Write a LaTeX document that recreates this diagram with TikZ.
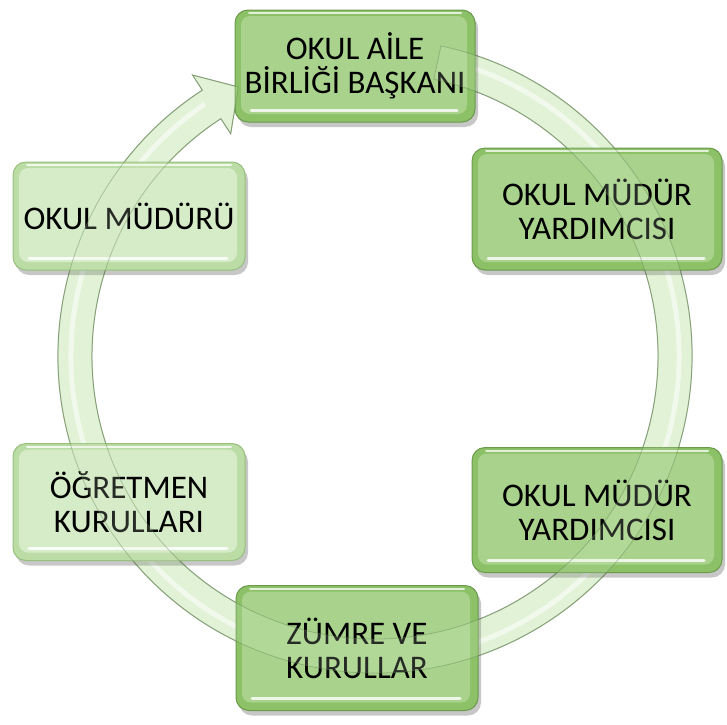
\documentclass[tikz,border=0pt]{standalone}
\usepackage{fontspec}
\setmainfont{Carlito}
\usetikzlibrary{calc}
\definecolor{gin}{HTML}{A9D38C}
\definecolor{grim}{HTML}{8CC168}
\definecolor{gedge}{HTML}{6A9A4A}
\definecolor{lin}{HTML}{D6EBC8}
\definecolor{lrim}{HTML}{BBDCA4}
\definecolor{ledge}{HTML}{97BF7E}
\definecolor{ringfill}{HTML}{DDF0D0}
\definecolor{ringedge}{HTML}{5E7F4E}
\tikzset{
  boxbase/.style={rectangle, rounded corners=13pt, line width=1pt, align=center,
    font=\fontsize{33}{34}\selectfont, text=black, inner sep=0pt},
  gbox/.style={boxbase, fill=grim, draw=gedge, path picture={
    \fill[gin, rounded corners=9pt] ([shift={(6pt,8pt)}]path picture bounding box.south west)
      rectangle ([shift={(-8pt,-6pt)}]path picture bounding box.north east);
    \draw[white, opacity=0.75, line width=2pt, line cap=round]
      ([shift={(14pt,-3pt)}]path picture bounding box.north west) -- ([shift={(-14pt,-3pt)}]path picture bounding box.north east);
    \draw[white, opacity=0.8, line width=3pt, line cap=round]
      ([shift={(16pt,12pt)}]path picture bounding box.south west) -- ([shift={(-18pt,12pt)}]path picture bounding box.south east);
  }},
  lbox/.style={boxbase, fill=lrim, draw=ledge, path picture={
    \fill[lin, rounded corners=9pt] ([shift={(6pt,8pt)}]path picture bounding box.south west)
      rectangle ([shift={(-8pt,-6pt)}]path picture bounding box.north east);
    \draw[white, opacity=0.8, line width=2pt, line cap=round]
      ([shift={(14pt,-3pt)}]path picture bounding box.north west) -- ([shift={(-14pt,-3pt)}]path picture bounding box.north east);
    \draw[white, opacity=0.85, line width=3pt, line cap=round]
      ([shift={(16pt,12pt)}]path picture bounding box.south west) -- ([shift={(-18pt,12pt)}]path picture bounding box.south east);
  }},
  shadowbox/.style={fill=black, opacity=0.22, rounded corners=13pt},
}
\newcommand{\mybox}[7]{%
  \fill[shadowbox] (#3+3-#5/2,-#4-5-#6/2) rectangle (#3+3+#5/2,-#4-5+#6/2);
  \node[#2, minimum width=#5pt, minimum height=#6pt] (#1) at (#3,-#4) {#7};
}
\begin{document}
\begin{tikzpicture}[x=1pt,y=1pt]
\useasboundingbox (0,0) rectangle (727,-724);
\fill[white] (0,0) rectangle (727,-724);
% circular arrow (behind)
\coordinate (C) at (375,-356);
\def\ringpath{($(C)+(78:317pt)$) arc[start angle=78, end angle=-237, radius=317pt]
  -- ($(C)+(123:335pt)$) -- ($(C)+(123:300pt)+(33:32pt)$) -- ($(C)+(123:265pt)$)
  -- ($(C)+(123:283pt)$) arc[start angle=-237, end angle=78, radius=283pt] -- cycle}
\fill[ringfill, opacity=0.8] \ringpath;
\draw[white, opacity=0.7, line width=5pt] ($(C)+(78:304pt)$) arc[start angle=78, end angle=-236, radius=304pt];
\draw[ringedge, opacity=0.6, line width=1pt, line join=miter] \ringpath;
% boxes
\mybox{aile}{gbox}{355}{66}{240}{112}{OKUL AİLE\\BİRLİĞİ BAŞKANI}
\mybox{mudur}{lbox}{129}{216}{232}{108}{OKUL MÜDÜRÜ}
\mybox{yrdA}{gbox}{597}{209}{250}{122}{OKUL MÜDÜR\\YARDIMCISI}
\mybox{ogr}{lbox}{129}{502}{232}{117}{ÖĞRETMEN\\KURULLARI}
\mybox{yrdB}{gbox}{597}{510}{250}{125}{OKUL MÜDÜR\\YARDIMCISI}
\mybox{zumre}{gbox}{357}{648}{242}{125}{ZÜMRE VE\\KURULLAR}
% ring seen through the boxes
\fill[ringfill, opacity=0.18] \ringpath;
\draw[ringedge, opacity=0.4, line width=0.8pt, line join=miter] \ringpath;
\end{tikzpicture}
\end{document}
